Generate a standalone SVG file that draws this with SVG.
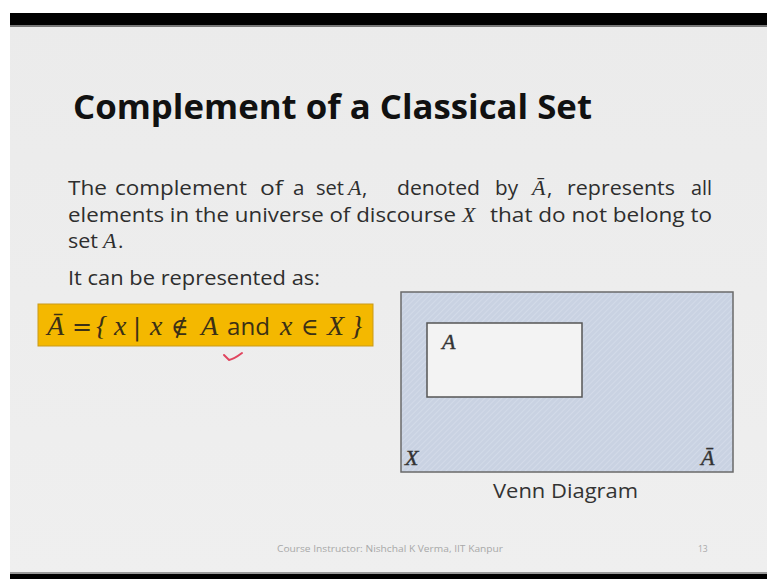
<svg xmlns="http://www.w3.org/2000/svg" width="767" height="579" viewBox="0 0 767 579">
<defs>
<pattern id="hatch" width="4" height="4" patternUnits="userSpaceOnUse" patternTransform="rotate(45)">
<rect width="4" height="4" fill="#c9d2e2"/>
<line x1="0" y1="0" x2="0" y2="4" stroke="#d6ddea" stroke-width="1.5"/>
</pattern>
<linearGradient id="bg" x1="0" y1="0" x2="0" y2="1">
<stop offset="0" stop-color="#ebebeb"/>
<stop offset="1" stop-color="#efefef"/>
</linearGradient>
</defs>
<style>
.body{font-family:"Open Sans","Liberation Sans",sans-serif;font-size:20.5px;fill:#2e2e2e}
.math{font-family:"Liberation Serif","DejaVu Serif",serif;font-style:italic;font-size:22px;fill:#2e2e2e}
.fm{font-family:"Liberation Serif","DejaVu Serif",serif;font-style:italic;font-size:28px;fill:#3b3016}
.fu{font-family:"DejaVu Serif","Liberation Serif",serif;font-size:24px;fill:#3b3016}
.fs{font-family:"Open Sans","Liberation Sans",sans-serif;font-size:24px;fill:#3b3016}
.vm{font-family:"Liberation Serif","DejaVu Serif",serif;font-style:italic;font-size:22px;fill:#333;stroke:#333;stroke-width:0.4}
</style>
<rect width="767" height="579" fill="#ffffff"/>
<rect x="10" y="13" width="757" height="566" fill="url(#bg)"/>
<rect x="10" y="13" width="757" height="12" fill="#000"/>
<rect x="10" y="25" width="757" height="2" fill="#777"/>
<rect x="10" y="572" width="757" height="2" fill="#999"/>
<rect x="10" y="574" width="757" height="5" fill="#000"/>

<g id="title">
<text x="73" y="119" font-family="Open Sans, Liberation Sans, sans-serif" font-weight="bold" font-size="34" fill="#111" textLength="519" lengthAdjust="spacingAndGlyphs">Complement of a Classical Set</text>
</g>

<g id="paragraph">
<text class="body" y="195" x="68" textLength="39" lengthAdjust="spacingAndGlyphs">The</text>
<text class="body" y="195" x="115" textLength="132" lengthAdjust="spacingAndGlyphs">complement</text>
<text class="body" y="195" x="260" textLength="23" lengthAdjust="spacingAndGlyphs">of</text>
<text class="body" y="195" x="293">a</text>
<text class="body" y="195" x="316" textLength="28" lengthAdjust="spacingAndGlyphs">set</text>
<text class="math" y="195" x="348">A</text>
<text class="body" y="195" x="362">,</text>
<text class="body" y="195" x="397" textLength="83" lengthAdjust="spacingAndGlyphs">denoted</text>
<text class="body" y="195" x="495" textLength="23" lengthAdjust="spacingAndGlyphs">by</text>
<text class="math" y="195" x="532">Ā</text>
<text class="body" y="195" x="547">,</text>
<text class="body" y="195" x="567" textLength="108" lengthAdjust="spacingAndGlyphs">represents</text>
<text class="body" y="195" x="691" textLength="21" lengthAdjust="spacingAndGlyphs">all</text>

<text class="body" y="222" x="68" textLength="388" lengthAdjust="spacingAndGlyphs">elements in the universe of discourse</text>
<text class="math" y="222" x="462">X</text>
<text class="body" y="222" x="490" textLength="222" lengthAdjust="spacingAndGlyphs">that do not belong to</text>

<text class="body" y="248" x="68" textLength="30" lengthAdjust="spacingAndGlyphs">set</text>
<text class="math" y="248" x="103">A</text>
<text class="body" y="248" x="118">.</text>

<text class="body" y="285" x="68" textLength="252" lengthAdjust="spacingAndGlyphs">It can be represented as:</text>
</g>

<g id="formula">
<rect x="38" y="304" width="335" height="42" fill="#f4b800" stroke="#c99a1a" stroke-width="1"/>
<text class="fm" y="335" x="47">Ā</text>
<text class="fu" y="335" x="72">=</text>
<text class="fm" y="335" x="96" font-style="normal">{</text>
<text class="fm" y="335" x="114">x</text>
<text class="fu" y="335" x="133">|</text>
<text class="fm" y="335" x="150">x</text>
<text class="fu" y="335" x="171">∉</text>
<text class="fm" y="335" x="201">A</text>
<text class="fs" y="335" x="227" textLength="43" lengthAdjust="spacingAndGlyphs">and</text>
<text class="fm" y="335" x="280">x</text>
<text class="fu" y="335" x="301">∈</text>
<text class="fm" y="335" x="327">X</text>
<text class="fm" y="335" x="351" font-style="normal">}</text>
</g>

<g id="check">
<path d="M224,355 L229,360 C234,359 238,356 242,353" fill="none" stroke="#e0455f" stroke-width="2" stroke-linecap="round"/>
</g>

<g id="universe">
<rect x="401" y="292" width="332" height="180" fill="url(#hatch)" stroke="#6a6a6a" stroke-width="1.5"/>
<text class="vm" x="405" y="465">X</text>
<text class="vm" x="701" y="465">Ā</text>
</g>

<g id="setA">
<rect x="427" y="323" width="155" height="74" fill="#f3f3f3" stroke="#555" stroke-width="1.5"/>
<text class="vm" x="442" y="349">A</text>
</g>

<g id="caption">
<text x="493" y="498" font-family="Open Sans, Liberation Sans, sans-serif" font-size="20" fill="#333" textLength="145" lengthAdjust="spacingAndGlyphs">Venn Diagram</text>
</g>

<g id="footer">
<text x="277" y="552" font-family="Open Sans, Liberation Sans, sans-serif" font-size="8.5" fill="#a8a8a8" textLength="226" lengthAdjust="spacingAndGlyphs">Course Instructor: Nishchal K Verma, IIT Kanpur</text>
<text x="698" y="552" font-family="Open Sans, Liberation Sans, sans-serif" font-size="8.5" fill="#a8a8a8">13</text>
</g>
</svg>
